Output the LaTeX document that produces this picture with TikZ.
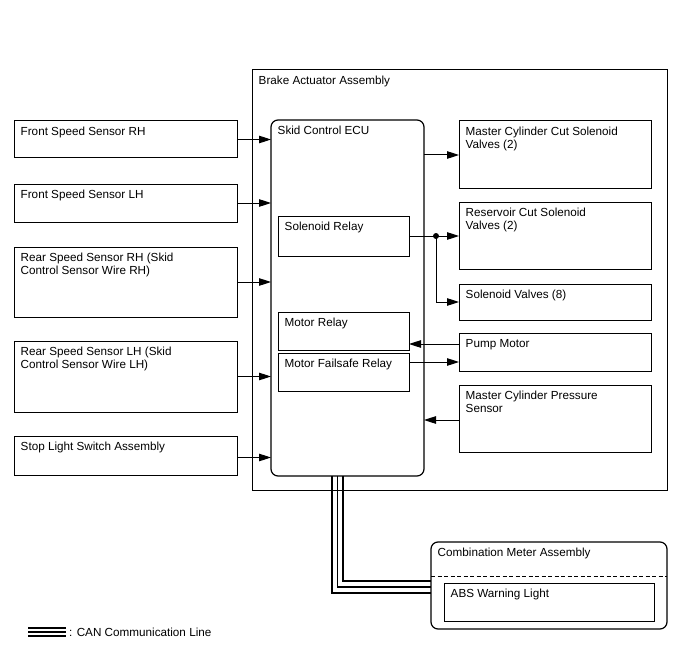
\documentclass[tikz,border=0pt]{standalone}
\usepackage{fontspec}
\setmainfont{Liberation Sans}
\usetikzlibrary{arrows.meta,calc}
\begin{document}
\begin{tikzpicture}[x=1pt,y=-1pt,
  box/.style={draw, line width=1pt, anchor=north west, inner sep=0pt, outer sep=0pt},
  txt/.style={anchor=north west, inner sep=0pt, align=left, font=\fontsize{11.7}{13.2}\selectfont},
  arr/.style={line width=1pt, -{Triangle[length=12pt,width=7.5pt]}},
  can/.style={line width=#1}]
\useasboundingbox (0,0) rectangle (688,658);
\newcommand\bx[7][]{\node[box,#1, minimum width=#4pt, minimum height=#5pt] (#2) at (#3) {};
  \node[txt] (#2t) at ([xshift=6.5pt,yshift=-6pt]#2.north west) {#6};}
% outer assembly
\bx{baa}{252,70}{415}{420}{Brake Actuator Assembly}{}
% left sensors
\bx{fsr}{14,121}{223}{37}{Front Speed Sensor RH}{}
\bx{fsl}{14,184}{223}{38}{Front Speed Sensor LH}{}
\bx{rsr}{14,247}{223}{70}{Rear Speed Sensor RH (Skid\\Control Sensor Wire RH)}{}
\bx{rsl}{14,341}{223}{71}{Rear Speed Sensor LH (Skid\\Control Sensor Wire LH)}{}
\bx{sls}{14,436}{223}{39}{Stop Light Switch Assembly}{}
% ECU
\bx[rounded corners=7pt, line width=1.2pt]{ecu}{271,120}{153}{356}{Skid Control ECU}{}
\bx{sr}{278,216}{131}{40}{Solenoid Relay}{}
\bx{mr}{278,312}{131}{38.5}{Motor Relay}{}
\bx{mfr}{278,353}{131}{38}{Motor Failsafe Relay}{}
% right
\bx{mcc}{459,121}{192}{67}{Master Cylinder Cut Solenoid\\Valves (2)}{}
\bx{rcs}{459,202}{192}{67}{Reservoir Cut Solenoid\\Valves (2)}{}
\bx{sv}{459,284}{192}{36}{Solenoid Valves (8)}{}
\bx{pm}{459,333}{192}{38}{Pump Motor}{}
\bx{mcp}{459,385}{192}{67}{Master Cylinder Pressure\\Sensor}{}
% combination meter
\bx[rounded corners=7pt, line width=1.2pt]{cma}{431,542}{236}{87}{Combination Meter Assembly}{}
\bx{abs}{444,583}{210}{38}{ABS Warning Light}{}
\draw[line width=1pt, dash pattern=on 4pt off 2.5pt] (cma.west |- 0,576) -- (cma.east |- 0,576);
% left arrows
\draw[arr] (fsr.east) -- (fsr.east -| ecu.west);
\draw[arr] (fsl.east) -- (fsl.east -| ecu.west);
\draw[arr] (rsr.east) -- (rsr.east -| ecu.west);
\draw[arr] (rsl.east) -- (rsl.east -| ecu.west);
\draw[arr] ([yshift=-2pt]sls.east) -- ([yshift=-2pt]sls.east -| ecu.west);
% right arrows
\coordinate (m1) at (424,155);
\draw[arr] (m1 -| ecu.east) -- (m1 -| mcc.west);
\coordinate (j) at (436,236);
\draw[line width=1pt] (sr.east |- j) -- (j);
\draw[arr] (j) -- (j -| rcs.west);
\draw[arr] (j) |- (sv.west |- 0,302);
\fill (j) circle (3pt);
\draw[arr] (pm.west |- 0,344) -- (mr.east |- 0,344);
\draw[arr] (mfr.east |- 0,362) -- (pm.west |- 0,362);
\draw[arr] (mcp.west |- 0,420) -- (ecu.east |- 0,420);
% CAN line
\draw[can=2.6pt] ([xshift=61pt]ecu.south west) |- ([yshift=36pt]cma.south west);
\draw[can=1.1pt] ([xshift=66.5pt]ecu.south west) |- ([yshift=42pt]cma.south west);
\draw[can=2.6pt] ([xshift=72pt]ecu.south west) |- ([yshift=48pt]cma.south west);
% legend
\draw[line width=2pt] (28,628) -- (66,628) (28,632) -- (66,632) (28,636) -- (66,636);
\node[txt, anchor=west] (leg) at (69,632) {: CAN Communication Line};
\end{tikzpicture}
\end{document}
